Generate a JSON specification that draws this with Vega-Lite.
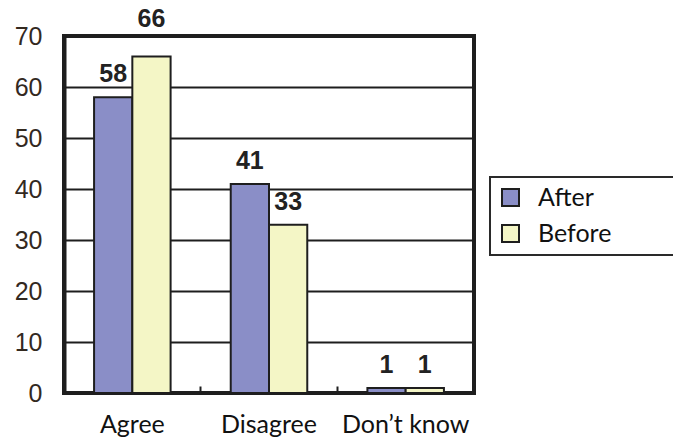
{
  "$schema": "https://vega.github.io/schema/vega-lite/v6.json",
  "width": 410,
  "height": 357,
  "autosize": "none",
  "padding": {"left": 64, "top": 36, "right": 199, "bottom": 46},
  "background": "white",
  "config": {
    "view": {"stroke": "#1e1e1e", "strokeWidth": 4},
    "legend": {
      "orient": "none",
      "legendX": 426,
      "legendY": 141,
      "strokeColor": "#2a2a2a",
      "strokeWidth": 2,
      "fillColor": "white",
      "padding": 8,
      "symbolType": "square",
      "symbolSize": 289,
      "symbolStrokeColor": "#1e1e1e",
      "symbolStrokeWidth": 2,
      "labelFont": "Lato",
      "labelFontSize": 25,
      "labelColor": "#111111",
      "labelOffset": 15,
      "labelLimit": 400,
      "rowPadding": 10
    }
  },
  "data": {
    "values": [
      {"answer": "Agree", "survey": "After", "percent": 58},
      {"answer": "Agree", "survey": "Before", "percent": 66},
      {"answer": "Disagree", "survey": "After", "percent": 41},
      {"answer": "Disagree", "survey": "Before", "percent": 33},
      {"answer": "Don’t know", "survey": "After", "percent": 1},
      {"answer": "Don’t know", "survey": "Before", "percent": 1}
    ]
  },
  "encoding": {
    "x": {
      "field": "answer",
      "type": "nominal",
      "sort": ["Agree", "Disagree", "Don’t know"],
      "scale": {"paddingInner": 0.44, "paddingOuter": 0.22},
      "axis": {
        "title": null,
        "zindex": 1,
        "grid": false,
        "domain": false,
        "offset": -7,
        "ticks": true,
        "bandPosition": 1.393,
        "tickSize": 7,
        "tickWidth": 2,
        "tickColor": "#1e1e1e",
        "labelAngle": 0,
        "labelFont": "Lato",
        "labelFontSize": 25,
        "labelColor": "#111111",
        "labelBaseline": "alphabetic",
        "labelPadding": 39
      }
    },
    "xOffset": {
      "field": "survey",
      "type": "nominal",
      "sort": ["After", "Before"],
      "scale": {"paddingInner": 0, "paddingOuter": 0}
    },
    "y": {
      "field": "percent",
      "type": "quantitative",
      "scale": {"domain": [0, 70], "nice": false},
      "axis": {
        "title": null,
        "values": [0, 10, 20, 30, 40, 50, 60, 70],
        "grid": true,
        "gridColor": "#1e1e1e",
        "gridWidth": 2,
        "gridOpacity": 1,
        "domainColor": "#1e1e1e",
        "domainWidth": 4,
        "ticks": false,
        "labelPadding": 22,
        "labelFont": "Liberation Sans",
        "labelFontSize": 25,
        "labelColor": "#33291f"
      }
    }
  },
  "layer": [
    {
      "mark": {"type": "bar", "stroke": "#1e1e1e", "strokeWidth": 2},
      "encoding": {
        "color": {
          "field": "survey",
          "type": "nominal",
          "sort": ["After", "Before"],
          "scale": {"domain": ["After", "Before"], "range": ["#8a8ec7", "#f4f6c6"]},
          "legend": {
            "title": null,
            "labelExpr": "datum.label + '\u00a0\u00a0\u00a0\u00a0\u00a0\u00a0\u00a0\u2800'"
          }
        }
      }
    },
    {
      "transform": [{"filter": "datum.percent <= 60"}],
      "mark": {
        "type": "text",
        "baseline": "alphabetic",
        "dy": -15,
        "font": "Liberation Sans",
        "fontWeight": "bold",
        "fontSize": 25,
        "color": "#222222"
      },
      "encoding": {"text": {"field": "percent", "type": "quantitative"}}
    },
    {
      "transform": [{"filter": "datum.percent > 60"}],
      "mark": {
        "type": "text",
        "baseline": "alphabetic",
        "dy": -29,
        "font": "Liberation Sans",
        "fontWeight": "bold",
        "fontSize": 25,
        "color": "#222222"
      },
      "encoding": {"text": {"field": "percent", "type": "quantitative"}}
    }
  ]
}
